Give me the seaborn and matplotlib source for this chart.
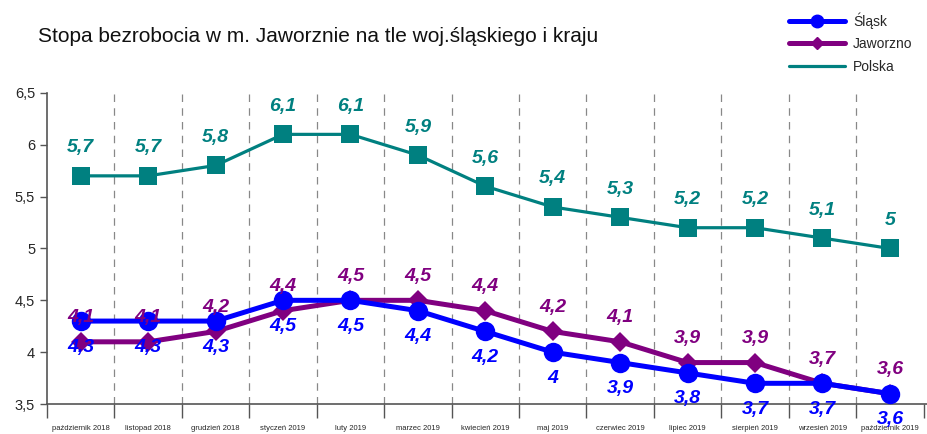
import numpy as np
import pandas as pd
import matplotlib
matplotlib.use("Agg")
import matplotlib.pyplot as plt
import seaborn as sns
from matplotlib.lines import Line2D

# --- DATA ---
months = ["październik 2018", "listopad 2018", "grudzień 2018", "styczeń 2019",
          "luty 2019", "marzec 2019", "kwiecień 2019", "maj 2019", "czerwiec 2019",
          "lipiec 2019", "sierpień 2019", "wrzesień 2019", "październik 2019"]
slask = [4.3, 4.3, 4.3, 4.5, 4.5, 4.4, 4.2, 4.0, 3.9, 3.8, 3.7, 3.7, 3.6]
jaworzno = [4.1, 4.1, 4.2, 4.4, 4.5, 4.5, 4.4, 4.2, 4.1, 3.9, 3.9, 3.7, 3.6]
polska = [5.7, 5.7, 5.8, 6.1, 6.1, 5.9, 5.6, 5.4, 5.3, 5.2, 5.2, 5.1, 5.0]
y_ticks = [3.5, 4, 4.5, 5, 5.5, 6, 6.5]

df = pd.DataFrame({"idx": range(len(months)), "Śląsk": slask,
                   "Jaworzno": jaworzno, "Polska": polska})

sns.set_style("white")
plt.rcParams["font.family"] = ["Liberation Sans", "DejaVu Sans"]

fig = plt.figure(figsize=(9.27, 4.34), dpi=100)
ax = fig.add_axes([0.0507, 0.069, 0.9493, 0.717])

blue, purple, teal = "#0000FF", "#800080", "#008080"

# series: (name, colour, marker, size, linewidth, label offset in px)
series = [
    ("Polska", teal, "s", 13, 2.3, 28),
    ("Jaworzno", purple, "D", 10, 3.6, 24),
    ("Śląsk", blue, "o", 14, 3.6, -26),
]
for name, col, mk, ms, lw, off in series:
    sns.lineplot(data=df, x="idx", y=name, ax=ax, color=col, linewidth=lw,
                 marker=mk, markersize=ms, markeredgewidth=0, zorder=3,
                 legend=False)
    for i, v in enumerate(df[name]):
        txt = f"{v:g}".replace(".", ",")
        ax.annotate(txt, (i, v), xytext=(0, off), textcoords="offset pixels",
                    ha="center", va="center", color=col, fontsize=14,
                    fontweight="bold", fontstyle="italic", zorder=5)

# dashed separators between months
for b in np.arange(0.5, len(months) - 1, 1):
    ax.axvline(b, color="#888888", linestyle=(0, (6, 5)), linewidth=0.9, zorder=1)

ax.set_xlim(-0.5, len(months) - 0.45)
ax.set_ylim(3.5, 6.5)
ax.set_yticks(y_ticks)
ax.set_yticklabels([f"{t:g}".replace(".", ",") for t in y_ticks], fontsize=10.5)
ax.set_xticks(range(len(months)))
ax.set_xticklabels(months, fontsize=5.5)
ax.tick_params(axis="x", length=0, pad=15)
ax.tick_params(axis="y", length=5, width=1, color="#555555", direction="out", left=True)
# small ticks on x axis at separators
ax.set_xticks(np.arange(-0.5, len(months), 1), minor=True)
ax.tick_params(axis="x", which="minor", length=10, width=1, color="#555555",
               direction="out", bottom=True)
ax.set_xlabel("")
ax.set_ylabel("")
for s in ["top", "right"]:
    ax.spines[s].set_visible(False)
for s in ["left", "bottom"]:
    ax.spines[s].set_color("#555555")
    ax.spines[s].set_linewidth(1.2)

fig.text(0.041, 0.915, "Stopa bezrobocia w m. Jaworznie na tle woj.śląskiego i kraju",
         fontsize=15, ha="left", va="center", color="#111111")

handles = [
    Line2D([0], [0], color=blue, lw=3.6, marker="o", markersize=9),
    Line2D([0], [0], color=purple, lw=3.6, marker="D", markersize=6),
    Line2D([0], [0], color=teal, lw=2.3),
]
fig.legend(handles, ["Śląsk", "Jaworzno", "Polska"], loc="upper left",
           bbox_to_anchor=(0.838, 1.0), frameon=False, fontsize=10,
           handlelength=4, labelspacing=0.6, handletextpad=0.6)

plt.savefig("out.png", dpi=100)
plt.close()
